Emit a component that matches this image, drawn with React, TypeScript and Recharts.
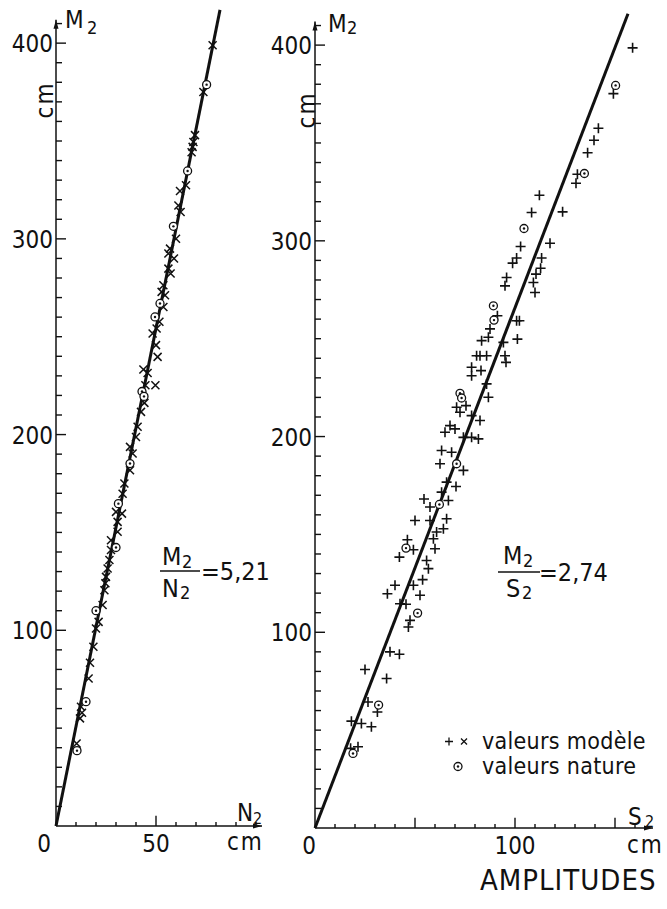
import { ScatterChart, Scatter, XAxis, YAxis, ReferenceLine, Legend } from 'recharts';

const FONT = "'DejaVu Sans Condensed', 'DejaVu Sans', sans-serif";
const INK = '#111';

// left panel: M2 against N2 (cm)
const leftModel = [
  [78.3, 398.9], [73.7, 375], [69.5, 353], [68.7, 349.5], [68.3, 347], [67.8, 344.3],
  [65, 327.4], [62, 324.5], [61.2, 317], [62.3, 313.7], [60, 300.1], [57, 295],
  [56.2, 292.5], [59, 290], [56.2, 284.8], [57.3, 282.3], [53.7, 276.3], [52.8, 272.9],
  [54.5, 271.2], [53.7, 265.2], [51.7, 257.6], [50.3, 254.2], [48.3, 251.6], [50, 245.7],
  [50.8, 239.7], [43.7, 233.2], [45.8, 231.5], [49.7, 225.2], [44.7, 225.2], [44.2, 216.2],
  [42.5, 211.6], [40.8, 204], [40, 198.8], [37, 193.7], [38.3, 190.3], [37, 181.8],
  [34.2, 175], [33.3, 169.8], [33, 159.6], [30, 160.5], [30.8, 155.4], [30.8, 150.3],
  [27.5, 146], [27.5, 141], [26.7, 135.9], [25.8, 131.6], [25, 127.3], [24.7, 124],
  [24.2, 120.5], [23.3, 112.9], [21.3, 104.3], [20, 100.9], [18.7, 91.6], [17, 83.4],
  [16.3, 75.4], [12.5, 60.9], [13, 57.9], [12, 55], [10.3, 42.2],
];
const leftNature = [
  [75.3, 378.8], [65.8, 334.7], [58.7, 306.4], [52, 267], [49.5, 260.1], [43, 222],
  [44, 219.5], [37, 185.2], [31.2, 164.7], [30, 142.3], [20, 110], [15, 63.5], [10.5, 38.5],
];
const leftFit = [[0, 0], [82, 417]];

// right panel: M2 against S2 (cm)
const rightModel = [
  [158.8, 398.6], [149.2, 375.2], [141.7, 357.5], [139.5, 351.4], [136.3, 345], [131.2, 334],
  [130.5, 329.4], [112.2, 323.3], [108.3, 314.5], [123.8, 314.8], [117.5, 298.8], [102.8, 297.1],
  [100.8, 291.2], [98.8, 288.6], [113.3, 291.2], [112.8, 286], [110.5, 283], [109.2, 278.7],
  [110, 273.6], [95.8, 281.3], [95, 277], [91.2, 261.7], [87.5, 255], [86.7, 250.7],
  [83.3, 249], [80.8, 241.3], [82.5, 241.3], [85.8, 241.3], [102.2, 259.2], [100.8, 259.2],
  [101.2, 249.8], [94.2, 248.1], [95, 241.3], [95.5, 237.9], [78.3, 235.4], [83, 233.7],
  [78.3, 231.1], [85.8, 226.9], [86.7, 220.1], [70.8, 215], [75.5, 215.8], [72.5, 212.4],
  [78.3, 210.7], [82.5, 208.2], [67.5, 205.6], [65, 202.2], [70, 203.9], [74.2, 199.6],
  [78.3, 199.6], [81.7, 198.8], [63.3, 192.9], [68.3, 192], [62.5, 186.1], [74.2, 182.7],
  [65.8, 176.7], [70.5, 174.5], [63.3, 171.6], [66.7, 167.3], [54.5, 168.1], [57.5, 164],
  [50, 157.1], [57.5, 157.1], [65.8, 158], [64.2, 152.9], [60.8, 151.2], [59.2, 147.8],
  [60, 142.7], [46.2, 147.3], [49.2, 142.2], [42.2, 138.4], [55.8, 136.7], [56.7, 132.5],
  [53.8, 126.9], [49.2, 124], [52.5, 118.9], [40, 124], [36.2, 119.7], [42.5, 114.6],
  [45.5, 114.3], [47.5, 106.1], [46.7, 102.7], [37.5, 90], [42.2, 88.8], [25, 81],
  [35.8, 76.4], [26.5, 64.4], [31.2, 59.3], [18.2, 54.6], [23.2, 53.4], [28.2, 51.7],
  [17.8, 40.7], [21.5, 41.5],
];
const rightNature = [
  [150.3, 379.4], [134.7, 334.4], [104.5, 306.3], [89.2, 266.8], [89.5, 259.5], [72.5, 222.1],
  [73.3, 219.7], [70.8, 186.1], [62.2, 165.3], [45.5, 143], [51.3, 109.8], [31.8, 62.8], [19, 38.1],
];
const rightFit = [[0, 0], [156.5, 416]];

// ticks
const yTicks = [
  10, 20, 30, 40, 50, 60, 70, 80, 90, 100, 110, 120, 130, 140, 150, 160, 170, 180, 190, 200,
  210, 220, 230, 240, 250, 260, 270, 280, 290, 300, 310, 320, 330, 340, 350, 360, 370, 380, 390, 400, 410,
];
const yLabels = [100, 200, 300, 400];
const leftXTicks = [0, 10, 20, 30, 40, 50, 60, 70, 80, 90, 100];
const leftXMajor = [50];
const leftXLabels = [0, 50];
const rightXTicks = [0, 10, 20, 30, 40, 50, 60, 70, 80, 90, 100, 110, 120, 130, 140, 150, 160];
const rightXMajor = [50, 100, 150];
const rightXLabels = [0, 100];

const toPts = (rows: number[][]) => rows.map(([x, y]) => ({ x, y }));

const Cross = ({ cx, cy }: any) => (
  <path
    d={`M${cx - 4},${cy - 4}L${cx + 4},${cy + 4}M${cx - 4},${cy + 4}L${cx + 4},${cy - 4}`}
    stroke={INK}
    strokeWidth={1.5}
    fill="none"
  />
);

const Plus = ({ cx, cy }: any) => (
  <path d={`M${cx - 5},${cy}H${cx + 5}M${cx},${cy - 5}V${cy + 5}`} stroke={INK} strokeWidth={1.6} fill="none" />
);

const Dotted = ({ cx, cy }: any) => (
  <g>
    <circle cx={cx} cy={cy} r={4} fill="#fff" stroke={INK} strokeWidth={1.3} />
    <circle cx={cx} cy={cy} r={1.2} fill={INK} />
  </g>
);

const Nothing = () => <g />;

// axis line with a small arrow head at the far end
const ArrowAxis = (props: any) => {
  const { x1, y1, x2, y2 } = props;
  const len = Math.hypot(x2 - x1, y2 - y1) || 1;
  const ux = (x2 - x1) / len;
  const uy = (y2 - y1) / len;
  const bx = x2 - ux * 9;
  const by = y2 - uy * 9;
  return (
    <g>
      <line x1={x1} y1={y1} x2={x2} y2={y2} stroke={INK} strokeWidth={1.5} />
      <path
        d={`M${x2},${y2}L${bx - uy * 2.5},${by + ux * 2.5}L${bx + uy * 2.5},${by - ux * 2.5}Z`}
        fill={INK}
      />
    </g>
  );
};

// tick marks point into the plot; both panels use 2 px per cm across and ~1.96 px per cm up
const yTickMarks = (majors: number[]) =>
  yTicks.map((v) => (
    <ReferenceLine
      key={`yt${v}`}
      segment={[{ x: 0, y: v }, { x: majors.includes(v) ? 5 : 3, y: v }]}
      stroke={INK}
      strokeWidth={1.4}
    />
  ));

const xTickMarks = (ticks: number[], majors: number[]) =>
  ticks
    .filter((v) => v > 0)
    .map((v) => (
      <ReferenceLine
        key={`xt${v}`}
        segment={[{ x: v, y: 0 }, { x: v, y: majors.includes(v) ? 5.2 : 2 }]}
        stroke={INK}
        strokeWidth={1.4}
      />
    ));

const YTick = (props: any) => {
  const x = Number(props.x);
  const y = Number(props.y);
  const v = props.payload.value;
  if (!yLabels.includes(v)) return <g />;
  return (
    <text x={x - 3} y={y + 9} textAnchor="end" fontSize={24} fontFamily={FONT} fill={INK}>
      {v}
    </text>
  );
};

const makeXTick = (labels: number[], zeroShift: number) => (props: any) => {
  const x = Number(props.x);
  const y = Number(props.y);
  const v = props.payload.value;
  if (!labels.includes(v)) return <g />;
  return (
    <text
      x={v === 0 ? x + zeroShift : x}
      y={y + 26}
      textAnchor={v === 0 ? 'end' : 'middle'}
      fontSize={24}
      fontFamily={FONT}
      fill={INK}
    >
      {v}
    </text>
  );
};

const LeftXTick = makeXTick(leftXLabels, -5);
const RightXTick = makeXTick(rightXLabels, 1);

const LegendBox = ({ payload }: any) => (
  <div style={{ fontFamily: FONT, fontSize: 23, lineHeight: '25px', color: INK }}>
    {(payload || [])
      .filter((e: any) => e.value !== 'fit' && e.type !== 'none')
      .map((e: any) => (
        <div key={e.value} style={{ display: 'flex', alignItems: 'center', height: 25 }}>
          <svg width={42} height={25}>
            {e.value === 'valeurs modèle' ? (
              <g>
                <path d="M5,12.5H13M9,8.5V16.5" stroke={INK} strokeWidth={1.3} />
                <path d="M21,9.5L27,15.5M21,15.5L27,9.5" stroke={INK} strokeWidth={1.3} />
              </g>
            ) : (
              <g>
                <circle cx={18} cy={12.5} r={4} fill="#fff" stroke={INK} strokeWidth={1.3} />
                <circle cx={18} cy={12.5} r={1.2} fill={INK} />
              </g>
            )}
          </svg>
          <span style={{ letterSpacing: 0.3 }}>{e.value}</span>
        </div>
      ))}
  </div>
);

const T = (p: any) => <text fontFamily={FONT} fill={INK} {...p} />;

export default function App() {
  return (
    <div style={{ position: 'absolute', left: 0, top: 0, width: 667, height: 909, background: '#fff' }}>
      <div style={{ position: 'absolute', left: 0, top: 0 }}>
        <ScatterChart width={300} height={909} margin={{ top: 4, right: 36, bottom: 0, left: 0 }}>
          <XAxis
            type="number"
            dataKey="x"
            domain={[0, 104]}
            ticks={leftXTicks}
            interval={0}
            height={83}
            axisLine={false}
            tickLine={false}
            tickSize={0}
            tickMargin={0}
            tick={LeftXTick}
          />
          <YAxis
            type="number"
            dataKey="y"
            domain={[0, 420]}
            ticks={yTicks}
            interval={0}
            width={56}
            axisLine={false}
            tickLine={false}
            tickSize={0}
            tickMargin={0}
            tick={YTick}
          />
          {yTickMarks(yLabels)}
          {xTickMarks(leftXTicks, leftXMajor)}
          <ReferenceLine segment={[{ x: 0, y: 0 }, { x: 103, y: 0 }]} shape={ArrowAxis} />
          <ReferenceLine segment={[{ x: 0, y: 0 }, { x: 0, y: 412 }]} shape={ArrowAxis} />
          <Scatter
            name="fit"
            data={toPts(leftFit)}
            line={{ stroke: INK, strokeWidth: 3 }}
            shape={Nothing}
            legendType="none"
            isAnimationActive={false}
          />
          <Scatter name="valeurs modèle" data={toPts(leftModel)} shape={Cross} isAnimationActive={false} />
          <Scatter name="valeurs nature" data={toPts(leftNature)} shape={Dotted} isAnimationActive={false} />
        </ScatterChart>
      </div>

      <div style={{ position: 'absolute', left: 250, top: 0 }}>
        <ScatterChart width={417} height={909} margin={{ top: 4, right: 8, bottom: 0, left: 0 }}>
          <XAxis
            type="number"
            dataKey="x"
            domain={[0, 172]}
            ticks={rightXTicks}
            interval={0}
            height={81}
            axisLine={false}
            tickLine={false}
            tickSize={0}
            tickMargin={0}
            tick={RightXTick}
          />
          <YAxis
            type="number"
            dataKey="y"
            domain={[0, 421]}
            ticks={yTicks}
            interval={0}
            width={65}
            axisLine={false}
            tickLine={false}
            tickSize={0}
            tickMargin={0}
            tick={YTick}
          />
          {yTickMarks(yLabels)}
          {xTickMarks(rightXTicks, rightXMajor)}
          <ReferenceLine segment={[{ x: 0, y: 0 }, { x: 169, y: 0 }]} shape={ArrowAxis} />
          <ReferenceLine segment={[{ x: 0, y: 0 }, { x: 0, y: 412 }]} shape={ArrowAxis} />
          <Scatter
            name="fit"
            data={toPts(rightFit)}
            line={{ stroke: INK, strokeWidth: 3 }}
            shape={Nothing}
            legendType="none"
            isAnimationActive={false}
          />
          <Scatter name="valeurs modèle" data={toPts(rightModel)} shape={Plus} isAnimationActive={false} />
          <Scatter name="valeurs nature" data={toPts(rightNature)} shape={Dotted} isAnimationActive={false} />
          <Legend
            layout="vertical"
            align="center"
            verticalAlign="middle"
            content={LegendBox}
            wrapperStyle={{ position: 'absolute', left: 190, top: 729, width: 220 }}
          />
        </ScatterChart>
      </div>

      {/* axis titles and ratio notes */}
      <svg width={667} height={909} style={{ position: 'absolute', left: 0, top: 0, pointerEvents: 'none' }}>
        <T x={65} y={28} fontSize={24}>M</T>
        <T x={87} y={34} fontSize={18}>2</T>
        <T transform="translate(53,100) rotate(-90)" textAnchor="middle" fontSize={24} letterSpacing={2}>cm</T>
        <T x={237} y={821} fontSize={24}>N</T>
        <T x={253} y={824} fontSize={16}>2</T>
        <T x={227} y={850} fontSize={24} letterSpacing={2}>cm</T>
        <T x={162} y={565} fontSize={25}>M</T>
        <T x={182} y={568} fontSize={18}>2</T>
        <line x1={160} y1={571} x2={200} y2={571} stroke={INK} strokeWidth={1.5} />
        <T x={162} y={597} fontSize={25}>N</T>
        <T x={180} y={599} fontSize={18}>2</T>
        <T x={201} y={580} fontSize={25}>=5,21</T>

        <T x={328} y={32} fontSize={24}>M</T>
        <T x={347} y={34} fontSize={18}>2</T>
        <T transform="translate(315,110) rotate(-90)" textAnchor="middle" fontSize={24} letterSpacing={2}>cm</T>
        <T x={628} y={825} fontSize={24}>S</T>
        <T x={645} y={827} fontSize={16}>2</T>
        <T x={627} y={853} fontSize={24} letterSpacing={2}>cm</T>
        <T x={503} y={564} fontSize={25}>M</T>
        <T x={523} y={567} fontSize={18}>2</T>
        <line x1={498} y1={572} x2={540} y2={572} stroke={INK} strokeWidth={1.5} />
        <T x={506} y={597} fontSize={25}>S</T>
        <T x={522} y={599} fontSize={18}>2</T>
        <T x={539} y={581} fontSize={25}>=2,74</T>
        <T x={480} y={890} fontSize={29} letterSpacing={1}>AMPLITUDES</T>
      </svg>
    </div>
  );
}
